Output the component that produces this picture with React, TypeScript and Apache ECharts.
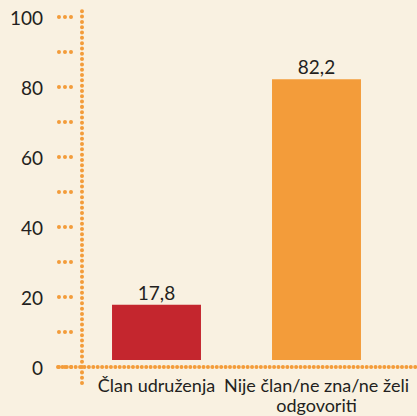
import React, { useEffect, useRef } from "react";
import * as echarts from "echarts";

const categories = ["Član udruženja", "Nije član/ne zna/ne želi\nodgovoriti"];
const values = [17.8, 82.2];
const barColors = ["#c4262e", "#f39c3a"];
const yTickLabels = ["0", "20", "40", "60", "80", "100"];

const FONT = "Lato, 'Open Sans', sans-serif";
const TEXT = "#231f20";
const ORANGE = "#f39c3a";

export default function App() {
  const ref = useRef<HTMLDivElement>(null);
  useEffect(() => {
    if (!ref.current) return;
    const chart = echarts.init(ref.current, undefined, { renderer: "svg" });
    const dots = (pitch: number, width: number) => ({
      color: ORANGE,
      width,
      type: [0.01, pitch] as any,
      cap: "round" as any,
    });
    const g = (o: any) => ({ ...o, containLabel: false, outerBoundsMode: "none" });
    chart.setOption({
      animation: false,
      backgroundColor: "#f9f1e1",
      grid: [
        g({ left: 76.5, right: 20.5, top: 17, bottom: 49 }),
        g({ left: 82, right: 20, top: 9, bottom: 33 }),
        g({ left: 71, right: 20, top: 17, bottom: 49 }),
        g({ left: 58, right: 0, top: 17, bottom: 49 }),
      ],
      xAxis: [
        {
          gridIndex: 0,
          type: "category",
          data: categories,
          axisLine: { show: false },
          axisTick: { show: false },
          axisLabel: {
            interval: 0,
            margin: 8,
            fontSize: 18,
            lineHeight: 20,
            color: TEXT,
            fontFamily: FONT,
          },
        },
        { gridIndex: 1, type: "value", show: false },
        { gridIndex: 2, type: "value", show: false },
        {
          gridIndex: 3,
          type: "value",
          axisLine: { show: true, lineStyle: dots(4.4, 4) },
          axisTick: { show: false },
          axisLabel: { show: false },
          splitLine: { show: false },
        },
      ],
      yAxis: [
        {
          gridIndex: 0,
          type: "value",
          min: 0,
          max: 100,
          interval: 10,
          show: false,
        },
        {
          gridIndex: 1,
          type: "value",
          min: 0,
          max: 100,
          axisLine: { show: true, lineStyle: dots(5.3, 4) },
          axisTick: { show: false },
          axisLabel: { show: false },
          splitLine: { show: false },
        },
        {
          gridIndex: 2,
          type: "value",
          min: 0,
          max: 100,
          interval: 10,
          axisLine: { show: false },
          axisTick: { show: true, length: 13, lineStyle: dots(6, 4) },
          axisLabel: {
            margin: 28,
            fontSize: 19,
            color: TEXT,
            fontFamily: FONT,
            formatter: (v: number) => (yTickLabels.includes(String(v)) ? String(v) : ""),
          },
          splitLine: { show: false },
        },
        {
          gridIndex: 3,
          type: "value",
          min: 0,
          max: 100,
          show: false,
        },
      ],
      series: [
        {
          type: "custom",
          xAxisIndex: 0,
          yAxisIndex: 0,
          data: values.map((v, i) => [i, v]),
          renderItem: (params: any, api: any) => {
            const idx = api.value(0);
            const v = api.value(1);
            const top = api.coord([idx, v]);
            const base = api.coord([idx, 0]);
            const w = api.size([1, 0])[0] * 0.556;
            const gap = 7;
            return {
              type: "group",
              children: [
                {
                  type: "rect",
                  shape: { x: top[0] - w / 2, y: top[1], width: w, height: base[1] - gap - top[1] },
                  style: { fill: barColors[params.dataIndex] },
                },
                {
                  type: "text",
                  style: {
                    text: String(v).replace(".", ","),
                    x: top[0],
                    y: top[1] - 3,
                    align: "center",
                    verticalAlign: "bottom",
                    fontSize: 19,
                    fontFamily: FONT,
                    fill: TEXT,
                  },
                },
              ],
            };
          },
        },
      ],
    });
    return () => chart.dispose();
  }, []);
  return (
    <div
      ref={ref}
      style={{ position: "absolute", left: 0, top: 0, width: 417, height: 416 }}
    />
  );
}
